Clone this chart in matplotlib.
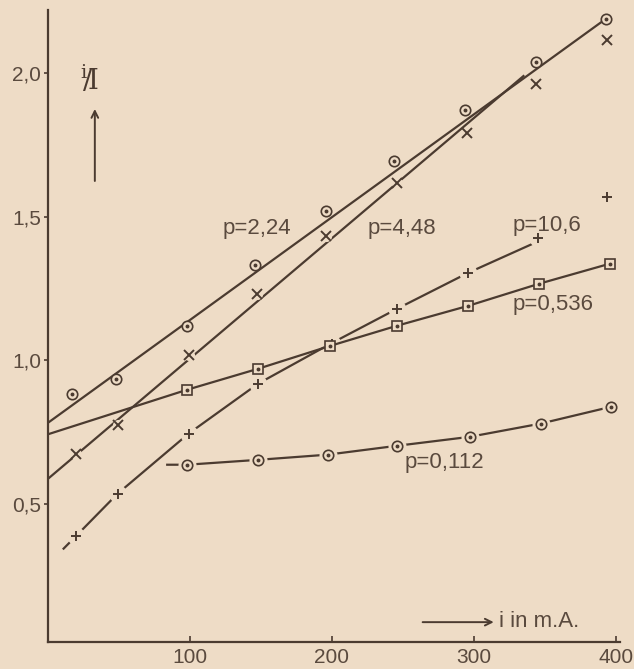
import matplotlib
matplotlib.use("Agg")
import matplotlib.pyplot as plt

plt.rcParams['font.family'] = ['Liberation Sans Narrow', 'Liberation Sans', 'DejaVu Sans']
plt.rcParams['mathtext.fontset'] = 'dejavuserif'

BG = '#eedcc6'
INK = '#4b3b30'
TXT = '#5a4a3e'

# ---------------- data ----------------
# p = 2,24  (circles with dot)
x_224 = [17, 48, 98, 146, 196, 244, 294, 344, 393]
y_224 = [0.884, 0.936, 1.121, 1.333, 1.521, 1.695, 1.873, 2.040, 2.189]
fit_224_x = [0, 393]
fit_224_y = [0.783, 2.189]

# p = 4,48  (crosses x)
x_448 = [20, 49, 99, 147, 196, 246, 295, 344, 394]
y_448 = [0.675, 0.776, 1.020, 1.232, 1.434, 1.619, 1.793, 1.963, 2.116]
fit_448_x = [0, 335]
fit_448_y = [0.588, 1.990]

# p = 10,6  (plus signs)
x_106 = [20, 49, 99, 148, 200, 246, 296, 345, 394]
y_106 = [0.390, 0.536, 0.745, 0.919, 1.058, 1.180, 1.305, 1.427, 1.570]
curve_106_x = [11, 20, 49, 99, 148, 199, 246, 296, 341]
curve_106_y = [0.345, 0.390, 0.536, 0.745, 0.919, 1.058, 1.180, 1.305, 1.405]

# p = 0,536  (squares with dot)
x_0536 = [98, 148, 199, 246, 296, 346, 396]
y_0536 = [0.898, 0.971, 1.051, 1.121, 1.190, 1.267, 1.337]
curve_0536_x = [0, 98, 148, 199, 246, 296, 346, 396]
curve_0536_y = [0.743, 0.898, 0.971, 1.051, 1.121, 1.190, 1.267, 1.337]

# p = 0,112  (circles with dot)
x_0112 = [98, 148, 197, 246, 297, 347, 397]
y_0112 = [0.637, 0.654, 0.672, 0.703, 0.734, 0.780, 0.839]
curve_0112_x = [84, 98, 148, 197, 246, 297, 347, 397]
curve_0112_y = [0.637, 0.637, 0.654, 0.672, 0.703, 0.734, 0.780, 0.839]

xticks = [100, 200, 300, 400]
xtick_labels = ['100', '200', '300', '400']
yticks = [0.5, 1.0, 1.5, 2.0]
ytick_labels = ['0,5', '1,0', '1,5', '2,0']

labels = ['p=2,24', 'p=4,48', 'p=10,6', 'p=0,536', 'p=0,112']
label_x = [123, 225, 327, 327, 251]
label_y = [1.44, 1.44, 1.45, 1.175, 0.625]

# ---------------- figure ----------------
fig = plt.figure(figsize=(6.34, 6.69), dpi=100, facecolor=BG)
ax = fig.add_axes([0.0757, 0.0404, 0.9022, 0.9447], facecolor=BG)
ax.set_xlim(0, 403)
ax.set_ylim(0.02, 2.22)

for s in ['top', 'right']:
    ax.spines[s].set_visible(False)
for s in ['left', 'bottom']:
    ax.spines[s].set_color(INK)
    ax.spines[s].set_linewidth(1.6)

ax.set_xticks(xticks)
ax.set_xticklabels(xtick_labels)
ax.set_yticks(yticks)
ax.set_yticklabels(ytick_labels)
ax.tick_params(axis='x', direction='in', length=4, width=1.2, color=INK,
               labelsize=15, labelcolor=TXT, pad=4)
ax.tick_params(axis='y', direction='out', length=3, width=1.2, color=INK,
               labelsize=15, labelcolor=TXT, pad=2)

LW = 1.6

def dotted_marker(x, y, marker, ms, z):
    ax.plot(x, y, linestyle='none', marker=marker, ms=ms, mfc=BG, mec=INK,
            mew=1.2, zorder=z)
    ax.plot(x, y, linestyle='none', marker='o', ms=1.8, mfc=INK, mec=INK,
            zorder=z + 0.05)

# p = 10,6 : broken line through plus signs
ax.plot(curve_106_x, curve_106_y, color=INK, lw=LW, zorder=2)
ax.plot(x_106, y_106, linestyle='none', marker='o', ms=13, mfc=BG, mec='none', zorder=2.1)
ax.plot(x_106, y_106, linestyle='none', marker='+', ms=7, mec=INK, mew=1.4, zorder=2.2)

# p = 4,48
ax.plot(fit_448_x, fit_448_y, color=INK, lw=LW, zorder=3)
ax.plot(x_448[:7], y_448[:7], linestyle='none', marker='o', ms=8, mfc=BG, mec='none', zorder=3.1)
ax.plot(x_448, y_448, linestyle='none', marker='x', ms=6.5, mec=INK, mew=1.4, zorder=3.2)

# p = 0,536
ax.plot(curve_0536_x, curve_0536_y, color=INK, lw=LW, zorder=4)
dotted_marker(x_0536, y_0536, 's', 6.5, 4.2)

# p = 2,24
ax.plot(fit_224_x, fit_224_y, color=INK, lw=LW, zorder=5)
dotted_marker(x_224, y_224, 'o', 7.5, 5.2)

# p = 0,112 : broken line through circles
ax.plot(curve_0112_x, curve_0112_y, color=INK, lw=LW, zorder=6)
ax.plot(x_0112, y_0112, linestyle='none', marker='o', ms=13, mfc=BG, mec='none', zorder=6.1)
dotted_marker(x_0112, y_0112, 'o', 7.5, 6.2)

# curve labels
for t, lx, ly in zip(labels, label_x, label_y):
    ax.text(lx, ly, t, fontsize=16, color=TXT, ha='left', va='baseline',
            family=['Liberation Sans', 'DejaVu Sans'], zorder=7)

# y quantity label with arrow
ax.text(29.5, 1.975, r'$^{\mathrm{i}}\!/\!\mathrm{I}$', fontsize=20, color=INK,
        ha='center', va='center')
ax.annotate('', xy=(33, 1.885), xytext=(33, 1.615),
            arrowprops=dict(arrowstyle='->', lw=1.4, color=INK, mutation_scale=12))

# x quantity label with arrow
ax.annotate('', xy=(316, 0.089), xytext=(262, 0.089),
            arrowprops=dict(arrowstyle='->', lw=1.4, color=INK, mutation_scale=12))
ax.text(318, 0.093, 'i in m.A.', fontsize=16, color=TXT, ha='left', va='center',
        family=['Liberation Sans', 'DejaVu Sans'])

fig.savefig('out.png', dpi=100, facecolor=BG)
